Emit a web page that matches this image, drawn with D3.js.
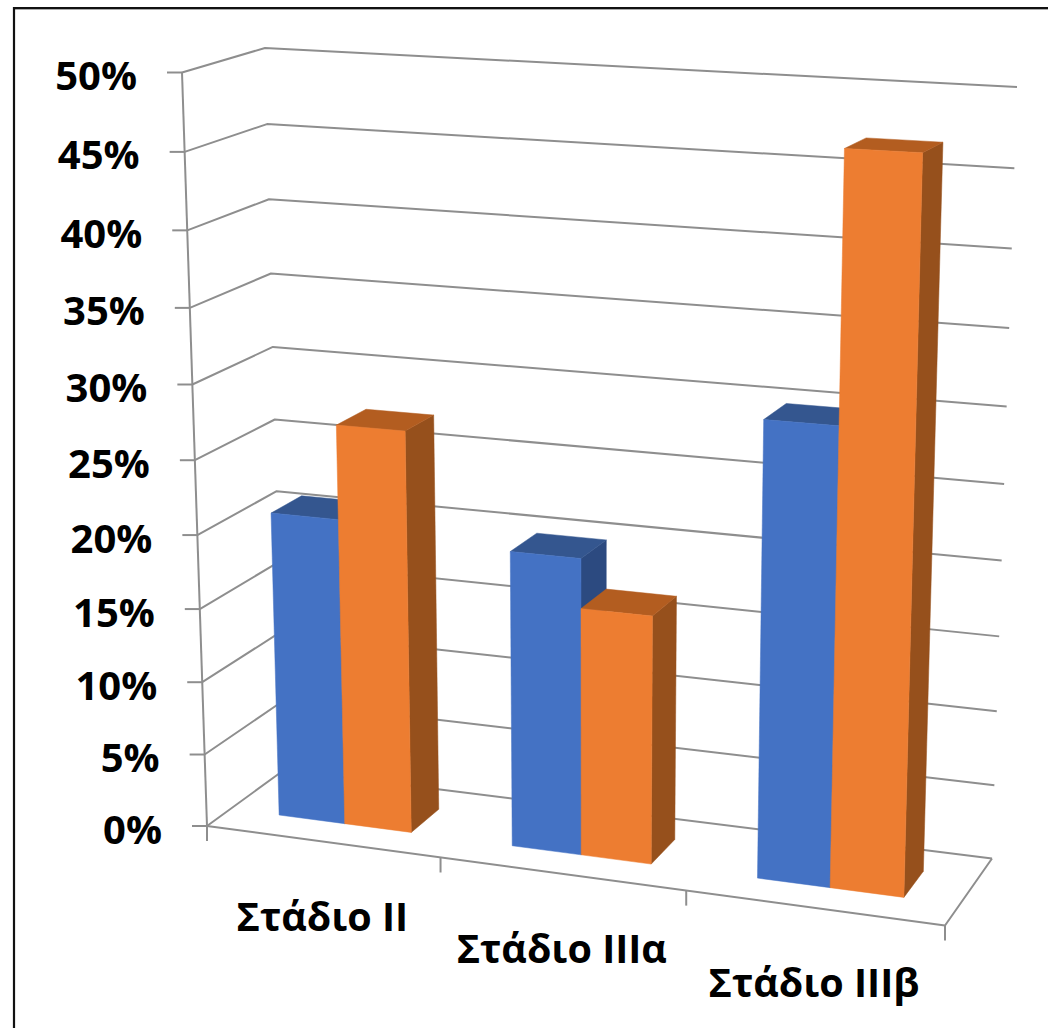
<!DOCTYPE html>
<html lang="el">
<head>
<meta charset="utf-8">
<title>Στάδιο</title>
<script src="https://cdn.jsdelivr.net/npm/d3@7/dist/d3.min.js"></script>
<style>
  html, body { margin: 0; padding: 0; background: #fff; }
  svg { display: block; }
  text { font-family: "Open Sans", "Noto Sans", sans-serif; font-weight: 700; fill: #000; }
</style>
</head>
<body>
<svg id="chart" width="1048" height="1028"></svg>
<script>
// Chart data
const categories = ["Στάδιο II", "Στάδιο IIIα", "Στάδιο IIIβ"];
const seriesBlue = [20.9, 19.9, 29.9];
const seriesOrange = [27.2, 16.6, 46.9];
const valueTicks = [0, 5, 10, 15, 20, 25, 30, 35, 40, 45, 50];
const seriesColours = [
  { front: "#4472C4", top: "#34568F", side: "#2C4A80" },
  { front: "#ED7D31", top: "#B35D20", side: "#96501C" }
];

// Screen positions of the eight corners of the plot box.
const box = {
  front: { bottomLeft: [207, 826], topLeft: [182, 72.5], bottomRight: [945, 925.5], topRight: [968, 111] },
  back:  { bottomLeft: [284, 770], topLeft: [265, 48],   bottomRight: [992, 858.5], topRight: [1017, 87] }
};

// Perspective foreshortening along one axis of the box.
const foreshorten = k => t => t / (t + k * (1 - t));
const warpX = foreshorten(1.08);
const warpY = foreshorten(1.06);

// Scales into unit box coordinates.
const yScale = d3.scaleLinear().domain([0, 50]).range([0, 1]);
const xBand = d3.scaleBand().domain(categories).range([0, 1]).paddingInner(0.427).paddingOuter(0.2135);
const seriesBand = d3.scaleBand().domain([0, 1]).range([0, xBand.bandwidth()]);
const barDepth = d3.scaleLinear().domain([0, 1]).range([0.31, 0.705]);

// Project a unit box coordinate to the screen by trilinear blending of the corners.
function project(xu, yu, zu) {
  const x = warpX(xu), y = warpY(yu);
  const blend = d3.interpolate;
  const onFace = f => blend(blend(f.bottomLeft, f.bottomRight)(x), blend(f.topLeft, f.topRight)(x))(y);
  return blend(onFace(box.front), onFace(box.back))(zu);
}

const svg = d3.select("#chart");
const pathOf = pts => "M" + pts.map(p => p[0].toFixed(2) + "," + p[1].toFixed(2)).join("L");
const line = (g, pts) => g.append("path").attr("d", pathOf(pts))
  .attr("fill", "none").attr("stroke", "#8E8E8E").attr("stroke-width", 2).attr("stroke-linejoin", "round");

// Outer frame: top and left edges only.
svg.append("line").attr("x1", 13).attr("x2", 1048).attr("y1", 9.5).attr("y2", 9.5).attr("stroke", "#aaa").attr("stroke-width", 1);
svg.append("line").attr("x1", 13).attr("x2", 1048).attr("y1", 8).attr("y2", 8).attr("stroke", "#111").attr("stroke-width", 2.2);
svg.append("line").attr("x1", 14).attr("x2", 14).attr("y1", 7).attr("y2", 1028).attr("stroke", "#111").attr("stroke-width", 2.2);

// Gridlines, walls and floor.
const grid = svg.append("g");
valueTicks.forEach(v => {
  const y = yScale(v);
  line(grid, [project(0, y, 0), project(0, y, 1), project(1, y, 1)]);
});
line(grid, [project(0, 0, 0), project(0, 1, 0)]);
line(grid, [project(0, 0, 0), project(1, 0, 0), project(1, 0, 1)]);

// Tick marks on the value axis and under the floor's front edge.
const tickLen = 15;
valueTicks.forEach(v => {
  const p = project(0, yScale(v), 0);
  line(grid, [[p[0] - tickLen, p[1]], p]);
});
d3.range(categories.length + 1).forEach(i => {
  const p = project(i / categories.length, 0, 0);
  line(grid, [p, [p[0], p[1] + tickLen]]);
});

// Value axis labels.
svg.append("g").selectAll("text").data(valueTicks).join("text")
  .attr("x", d => project(0, yScale(d), 0)[0] - 45)
  .attr("y", d => project(0, yScale(d), 0)[1] + 17.5)
  .attr("text-anchor", "end")
  .attr("font-size", 40)
  .text(d => d + "%");

// Category labels sit below the middle of each floor segment.
svg.append("g").selectAll("text").data(categories).join("text")
  .attr("x", (d, i) => project((i + 0.5) / categories.length, 0, 0)[0])
  .attr("y", (d, i) => project((i + 0.5) / categories.length, 0, 0)[1] + 89)
  .attr("text-anchor", "middle")
  .attr("font-size", 39.5)
  .text(d => d);

// Columns, each drawn as side, top and front faces.
const bars = svg.append("g");
[seriesBlue, seriesOrange].forEach((values, s) => {
  categories.forEach((c, i) => {
    const x0 = xBand(c) + seriesBand(s);
    const x1 = x0 + seriesBand.bandwidth();
    const y = yScale(values[i]);
    const z0 = barDepth(0), z1 = barDepth(1);
    const col = seriesColours[s];
    const face = (pts, fill) => bars.append("path").attr("d", pathOf(pts) + "Z")
      .attr("fill", fill).attr("stroke", fill).attr("stroke-width", 0.5);
    face([project(x1, 0, z0), project(x1, 0, z1), project(x1, y, z1), project(x1, y, z0)], col.side);
    face([project(x0, y, z0), project(x1, y, z0), project(x1, y, z1), project(x0, y, z1)], col.top);
    face([project(x0, 0, z0), project(x1, 0, z0), project(x1, y, z0), project(x0, y, z0)], col.front);
  });
});
</script>
</body>
</html>
